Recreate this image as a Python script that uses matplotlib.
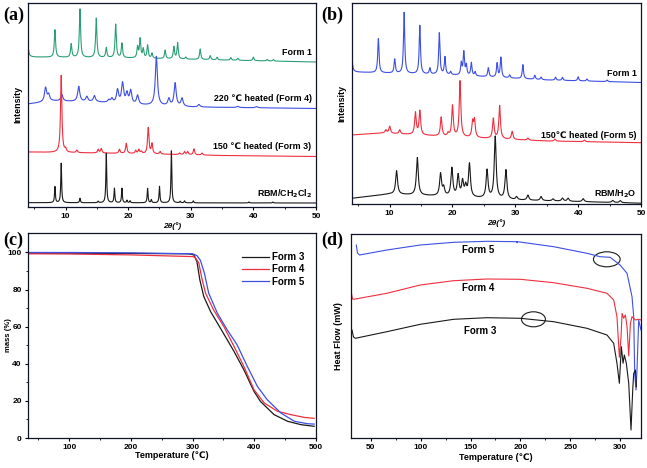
import matplotlib.pyplot as plt
import numpy as np
from matplotlib.patches import Ellipse

plt.rcParams["font.family"] = ["Liberation Sans", "DejaVu Sans"]
plt.rcParams["font.weight"] = "bold"

# ---------- (a) XRD data: peak positions (2theta) and heights ----------
a_form1_base_x = [4, 20, 35, 50]
a_form1_base_y = [150, 149, 147, 145]
a_form1_pos = [3.9, 8.3, 10.9, 12.3, 14.9, 16.5, 18.0, 19.0, 21.5, 21.9, 22.4, 23.1, 23.8,
               25.9, 27.3, 27.9, 29.2, 31.5, 33.1, 34.2, 36.4, 37.5, 40.0, 42.2, 43.2]
a_form1_h = [25, 27.5, 13.5, 48.5, 39.5, 10, 33.5, 14.5, 11, 19, 9, 13, 5,
             8.5, 12, 16, 2, 10.5, 4, 2.5, 2.5, 2, 3.5, 1.5, 1.5]

a_form4_base_x = [4, 8, 15, 22, 30, 50]
a_form4_base_y = [103, 106, 105, 102, 100, 98.5]
a_form4_pos = [6.8, 7.3, 9.4, 12.1, 13.4, 14.6, 16.9, 17.4, 18.3, 19.1, 19.8, 20.4, 21.5,
               24.5, 26.5, 27.5, 28.6, 31.3, 37.5, 40.5]
a_form4_h = [14, 6.5, 6.5, 15, 5, 6, 2.5, 4, 13, 20, 10, 13, 9,
             49, 7, 23, 8, 2.5, 1.2, 1.2]

a_form3_base_x = [4, 20, 35, 50]
a_form3_base_y = [55, 53.5, 51.5, 50.5]
a_form3_pos = [9.3, 10.0, 11.8, 15.2, 15.7, 18.6, 19.7, 21.2, 21.7, 22.1, 23.2, 23.8,
               25.1, 28.2, 29.0, 29.5, 30.5, 31.8]
a_form3_h = [77, 3, 2.5, 3.5, 4.5, 4, 10, 3, 4, 2, 26, 10,
             2.5, 1.5, 3, 3, 6, 2]

a_rbm_base_x = [4, 50]
a_rbm_base_y = [4.3, 4.0]
a_rbm_pos = [8.3, 9.3, 12.3, 15.2, 16.5, 17.8, 19.0, 19.8, 20.3, 23.1, 23.7, 25.0,
             26.9, 28.3, 29.0, 30.4, 39.3, 43.1]
a_rbm_h = [16, 39.5, 4.5, 1.5, 49.5, 14.5, 14.5, 2.5, 2, 14.5, 3, 16.5,
           52, 1.5, 2, 2, 1, 1]

a_labels = ["Form 1", "220 \u2103 heated (Form 4)", "150 \u2103 heated (Form 3)",
            "RBM/CH$_\\mathbf{2}$Cl$_\\mathbf{2}$"]
a_label_y = [154, 108, 60, 13]

# ---------- (b) XRD data ----------
b_form1_base_x = [4, 20, 35, 50]
b_form1_base_y = [132, 129, 124, 121.5]
b_form1_pos = [3.9, 8.2, 10.8, 12.3, 14.8, 16.4, 17.9, 18.8, 19.7, 21.4, 21.8, 22.2, 23.0,
               23.6, 25.7, 27.1, 27.7, 29.1, 31.2, 33.1, 34.1, 36.4, 37.5, 40.0, 41.4, 44.6]
b_form1_h = [29, 34, 14, 61, 48.5, 6, 41.5, 17.5, 3, 12, 23, 10, 13,
             4, 9, 14, 20, 3, 14, 4, 2.5, 3, 3, 4, 2, 1.5]

b_form5_base_x = [4, 9, 20, 35, 50]
b_form5_base_y = [69, 71, 67, 63, 61.3]
b_form5_pos = [9.4, 10.0, 11.6, 14.1, 14.8, 18.2, 19.3, 20.0, 21.2, 23.2, 23.5, 26.5,
               27.5, 29.5, 32.0, 36.3, 41.0]
b_form5_h = [3, 7, 4, 22, 24, 19, 3, 31, 56, 15, 17, 20,
             33, 8, 2, 2, 1.5]

b_rbm_base_x = [4, 10, 12, 20, 30, 50]
b_rbm_base_y = [5.7, 10.0, 9.5, 7.3, 4.0, 0.8]
b_rbm_pos = [11.1, 14.4, 18.1, 18.6, 19.9, 20.9, 21.6, 22.1, 22.7, 25.5, 26.8, 28.5,
             30.2, 32.0, 34.1, 36.0, 37.5, 38.4, 40.8, 45.5, 46.7]
b_rbm_h = [23.5, 37.5, 22, 8, 28, 21, 15, 10, 33, 28, 62, 29,
           3, 5, 4, 2, 3, 3, 3, 2, 2]

b_labels = ["Form 1", "150\u2103 heated (Form 5)", "RBM/H$_\\mathbf{2}$O"]
b_label_y = [130, 68, 10]

# ---------- (c) TGA data ----------
tga_f3_t = [33, 100, 200, 290, 296, 302, 307, 311.6, 318, 329, 340, 356, 367, 383, 399.5,
            410, 432, 454, 475.5, 497]
tga_f3_m = [99.6, 99.6, 99.5, 99.3, 99.2, 98.7, 95, 85.3, 76.3, 68.2, 62, 53, 46.7, 36.8,
            25.1, 19.7, 12.6, 9, 7.2, 6.3]
tga_f4_t = [33, 100, 200, 300, 304, 310, 315.4, 321, 334, 350.7, 367, 383, 399.5, 416,
            437.5, 459, 481, 497]
tga_f4_m = [99.3, 99.2, 98.7, 97.8, 97.4, 94.3, 85.3, 78, 69, 60, 49.4, 38.6, 26, 18.9,
            14.4, 12.6, 11.1, 10.6]
tga_f5_t = [33, 100, 200, 300, 307, 312.7, 319, 326, 340, 356, 372, 388.6, 405, 421,
            443, 465, 486, 497]
tga_f5_m = [100, 100, 99.8, 99.3, 98.3, 95.7, 88.9, 78.1, 67.3, 58.3, 50.3, 38.6, 27.8,
            20.6, 13.5, 9, 7.7, 7.5]

# ---------- (d) DSC data ----------
dsc_f5_t = [35.3, 36.5, 38.6, 66, 99.5, 133, 166.5, 196.3, 196.6, 197, 233.4, 266.8, 280,
            290, 300, 307, 312, 313.7, 314.7, 316, 317, 318.7, 321]
dsc_f5_q = [193, 185, 183, 188, 193, 195.7, 196.7, 196.3, 195.3, 196.3, 191.3, 184.7,
            181.3, 180.7, 173, 164.7, 141.3, 121.3, 64.7, 48, 68, 118, 108]
dsc_f4_t = [30.4, 31.5, 32.7, 66, 99.5, 133, 166.5, 200, 233.4, 266.8, 286.9, 293.6, 296.9,
            299.3, 301, 302, 303.6, 305.3, 307, 308.7, 310.4, 312, 315.4, 318.7, 321]
dsc_f4_q = [145, 139, 138.7, 144.7, 153, 157.3, 159, 158.7, 155.3, 149.7, 144.7, 138,
            121.3, 80.7, 101.3, 124.7, 119.7, 123, 111.3, 82, 114.7, 121.3, 118, 118.7, 118]
dsc_f3_t = [31, 32.5, 34.4, 66, 99.5, 133, 166.5, 200, 233.4, 266.8, 286.9, 293.6, 296.9,
            299.3, 301.3, 303, 304.3, 306.3, 308.7, 311, 312.7, 313.7, 315.4, 316.4]
dsc_f3_q = [108, 101, 99.7, 106.3, 113.7, 118.7, 120.3, 119.7, 116.3, 109.7, 103, 94.7,
            74.7, 54.7, 91.3, 74.7, 83, 74.7, 54.7, 8, 48, 64.7, 68, 51.3]
dsc_labels = ["Form 5", "Form 4", "Form 3"]
dsc_label_xy = [(158, 188), (158, 150), (160, 107)]
circle_xy = [(286.7, 178.7), (213.1, 118.7)]
circle_wh = [(26.8, 15), (24, 15)]

GREEN = "#2b9f74"
BLUE = "#3d4fe4"
RED = "#ef2f3f"
BLACK = "#1a1a1a"

grid = np.linspace(4, 50, 4000)


def pattern(base_x, base_y, pos, h, w):
    y = np.interp(grid, base_x, base_y)
    for p, hh in zip(pos, h):
        y = y + hh / (1 + ((grid - p) / w) ** 2)
    return y


def style_axes(ax):
    for s in ax.spines.values():
        s.set_linewidth(0.9)
        s.set_color("#10142a")
    ax.tick_params(labelsize=6, width=0.8, length=2.5, pad=2)
    ax.tick_params(which="minor", width=0.6, length=1.5)
    for lab in ax.get_xticklabels() + ax.get_yticklabels():
        lab.set_fontweight("bold")


fig = plt.figure(figsize=(6.47, 4.68), dpi=100)

# (a)
ax = fig.add_axes([0.0433, 0.5577, 0.4451, 0.4359])
ax.plot(grid, pattern(a_form1_base_x, a_form1_base_y, a_form1_pos, a_form1_h, 0.12), color=GREEN, lw=0.8)
ax.plot(grid, pattern(a_form4_base_x, a_form4_base_y, a_form4_pos, a_form4_h, 0.2), color=BLUE, lw=0.8)
ax.plot(grid, pattern(a_form3_base_x, a_form3_base_y, a_form3_pos, a_form3_h, 0.13), color=RED, lw=0.8)
ax.plot(grid, pattern(a_rbm_base_x, a_rbm_base_y, a_rbm_pos, a_rbm_h, 0.08), color=BLACK, lw=0.8)
for t, yy in zip(a_labels, a_label_y):
    ax.text(49.3, yy, t, ha="right", va="center", fontsize=6.4, fontweight="bold")
ax.set_xlim(4, 50)
ax.set_ylim(0, 204)
ax.set_xticks([10, 20, 30, 40, 50])
ax.set_xticks([5, 15, 25, 35, 45], minor=True)
ax.set_yticks([])
ax.set_xlabel("2\u03b8(\u00b0)", fontsize=6, fontweight="bold", fontstyle="italic", labelpad=1)
ax.set_ylabel("Intensity", fontsize=6.4, fontweight="bold", labelpad=4)
style_axes(ax)
fig.text(0.005, 0.985, "(a)", family="Liberation Serif", fontsize=13, fontweight="bold", va="top")

# (b)
ax = fig.add_axes([0.5440, 0.5641, 0.4467, 0.4295])
ax.plot(grid, pattern(b_form1_base_x, b_form1_base_y, b_form1_pos, b_form1_h, 0.12), color=BLUE, lw=0.8)
ax.plot(grid, pattern(b_form5_base_x, b_form5_base_y, b_form5_pos, b_form5_h, 0.15), color=RED, lw=0.8)
ax.plot(grid, pattern(b_rbm_base_x, b_rbm_base_y, b_rbm_pos, b_rbm_h, 0.18), color=BLACK, lw=0.8)
for t, yy in zip(b_labels, b_label_y):
    ax.text(49.3, yy, t, ha="right", va="center", fontsize=6.4, fontweight="bold")
ax.set_xlim(4, 50)
ax.set_ylim(0, 201)
ax.set_xticks([10, 20, 30, 40, 50])
ax.set_xticks([5, 15, 25, 35, 45], minor=True)
ax.set_yticks([])
ax.set_xlabel("2\u03b8(\u00b0)", fontsize=6, fontweight="bold", fontstyle="italic", labelpad=1)
ax.set_ylabel("Intensity", fontsize=6.4, fontweight="bold", labelpad=4)
style_axes(ax)
fig.text(0.497, 0.985, "(b)", family="Liberation Serif", fontsize=13, fontweight="bold", va="top")

# (c)
ax = fig.add_axes([0.0433, 0.0641, 0.4451, 0.438])
ax.plot(tga_f3_t, tga_f3_m, color=BLACK, lw=0.9, label="Form 3")
ax.plot(tga_f4_t, tga_f4_m, color=RED, lw=0.9, label="Form 4")
ax.plot(tga_f5_t, tga_f5_m, color=BLUE, lw=0.9, label="Form 5")
ax.set_xlim(33, 500)
ax.set_ylim(0, 110.5)
ax.set_xticks([100, 200, 300, 400, 500])
ax.set_xticks([50, 150, 250, 350, 450], minor=True)
ax.set_yticks([0, 20, 40, 60, 80, 100])
ax.set_yticks([10, 30, 50, 70, 90], minor=True)
ax.set_xlabel("Temperature (\u2103)", fontsize=6.5, fontweight="bold", labelpad=0)
ax.set_ylabel("mass (%)", fontsize=5.5, fontweight="bold", va="center")
ax.yaxis.set_label_coords(-0.068, 0.5)
leg = ax.legend(loc="upper right", bbox_to_anchor=(0.99, 0.95), frameon=False,
                handlelength=2.8, handletextpad=0.3, labelspacing=0.25,
                prop={"size": 7, "weight": "bold"})
style_axes(ax)
fig.text(0.005, 0.505, "(c)", family="Liberation Serif", fontsize=13, fontweight="bold", va="top")

# (d)
ax = fig.add_axes([0.5425, 0.0641, 0.4482, 0.4359])
ax.plot(dsc_f5_t, dsc_f5_q, color=BLUE, lw=0.8)
ax.plot(dsc_f4_t, dsc_f4_q, color=RED, lw=0.8)
ax.plot(dsc_f3_t, dsc_f3_q, color=BLACK, lw=0.8)
for t, (xx, yy) in zip(dsc_labels, dsc_label_xy):
    ax.text(xx, yy, t, ha="center", va="center", fontsize=7, fontweight="bold")
for (cx, cy), (w, h) in zip(circle_xy, circle_wh):
    ax.add_patch(Ellipse((cx, cy), w, h, fill=False, color=BLACK, lw=0.8))
ax.set_xlim(30, 321)
ax.set_ylim(0, 204)
ax.set_xticks([50, 100, 150, 200, 250, 300])
ax.set_xticks([75, 125, 175, 225, 275], minor=True)
ax.set_yticks([])
ax.set_xlabel("Temperature (\u2103)", fontsize=6.5, fontweight="bold", labelpad=1)
ax.set_ylabel("Heat Flow (mW)", fontsize=6.5, fontweight="bold", labelpad=6)
style_axes(ax)
fig.text(0.497, 0.505, "(d)", family="Liberation Serif", fontsize=13, fontweight="bold", va="top")

fig.savefig("out.png", dpi=100)
